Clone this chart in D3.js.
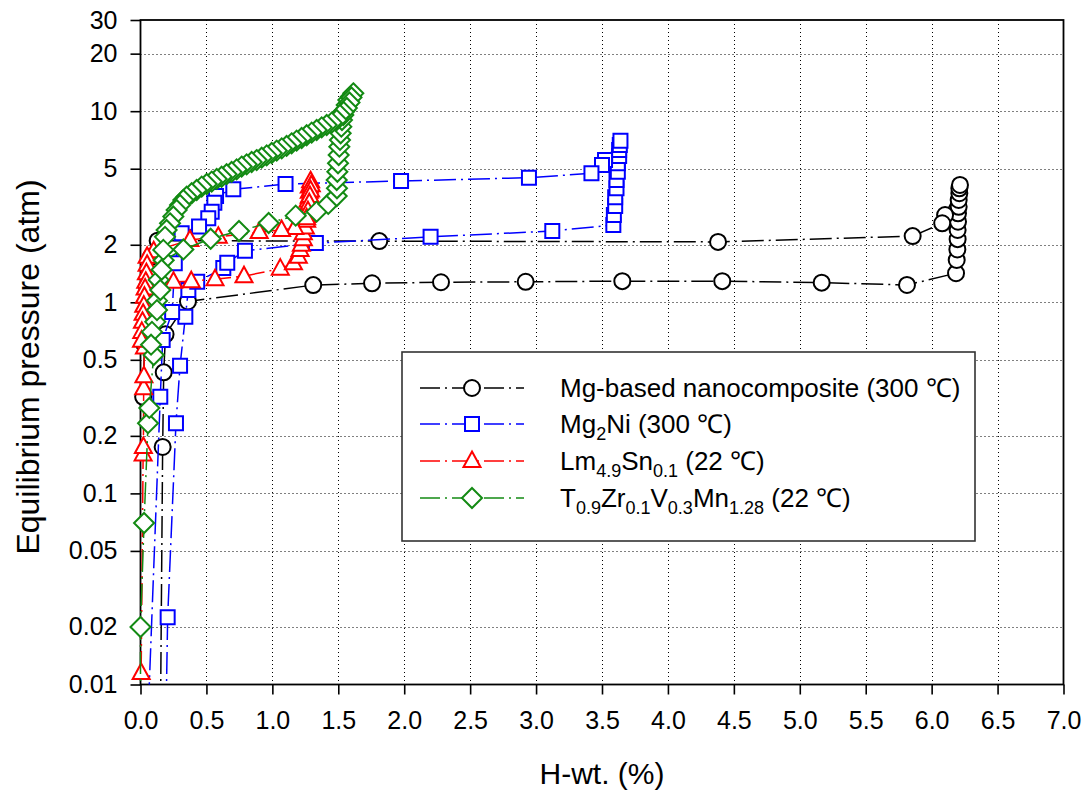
<!DOCTYPE html>
<html>
<head>
<meta charset="utf-8">
<script src="https://cdn.jsdelivr.net/npm/d3@7"></script>
<style>
  html, body { margin: 0; padding: 0; background: #ffffff; }
  svg { display: block; font-family: "Liberation Sans", Arial, Helvetica, sans-serif; }
</style>
</head>
<body>
<svg id="chart" width="1089" height="800"></svg>
<script>
// ---- Data: [H-wt. %, equilibrium pressure (atm)] in measurement order ----
const mgNanoData = [
  [0.150, 0.005], [0.168, 0.175], [0.176, 0.43], [0.190, 0.68], [0.360, 1.01],
  [1.310, 1.23], [1.756, 1.257], [2.279, 1.273], [2.921, 1.28], [3.654, 1.29],
  [4.412, 1.29], [5.166, 1.267], [5.813, 1.232], [6.185, 1.42], [6.190, 1.665],
  [6.195, 1.89], [6.197, 2.14], [6.197, 2.39], [6.200, 2.64], [6.200, 2.92],
  [6.205, 3.16], [6.205, 3.43], [6.210, 3.72], [6.210, 3.95], [6.215, 4.11],
  [6.102, 2.86], [6.080, 2.59], [5.856, 2.22], [4.380, 2.07], [1.811, 2.09],
  [0.130, 2.10], [0.080, 1.73], [0.050, 1.20], [0.030, 0.60], [0.020, 0.32]
];

const mg2NiData = [
  [0.190, 0.005], [0.206, 0.0225], [0.269, 0.233], [0.300, 0.466], [0.340, 0.84],
  [0.363, 1.16], [0.430, 1.28], [0.628, 1.51], [0.658, 1.61], [0.792, 1.86],
  [1.330, 2.04], [2.200, 2.20], [3.123, 2.36], [3.586, 2.54], [3.590, 2.86],
  [3.600, 3.19], [3.600, 3.54], [3.610, 3.95], [3.610, 4.36], [3.620, 4.82],
  [3.620, 5.34], [3.630, 5.83], [3.630, 6.27], [3.635, 6.66], [3.640, 7.00],
  [3.523, 5.55], [3.500, 5.23], [3.420, 4.73], [2.946, 4.49], [1.976, 4.31],
  [1.100, 4.16], [0.704, 3.90], [0.573, 3.60], [0.560, 3.32], [0.540, 2.98],
  [0.514, 2.75], [0.444, 2.49], [0.312, 2.30], [0.260, 1.60], [0.240, 0.89],
  [0.168, 0.635], [0.150, 0.32], [0.050, 0.005]
];

const lmSnData = [
  [0.005, 0.0115], [0.020, 0.16], [0.022, 0.175], [0.024, 0.355], [0.026, 0.41],
  [0.030, 0.58], [0.045, 0.75], [0.065, 1.00], [0.100, 1.18], [0.250, 1.28],
  [0.385, 1.29], [0.565, 1.32], [0.785, 1.37], [1.060, 1.50], [1.160, 1.60],
  [1.197, 1.73], [1.210, 1.88], [1.220, 2.00], [1.235, 2.14], [1.235, 2.30],
  [1.250, 2.46], [1.260, 2.67], [1.260, 2.83], [1.270, 3.00], [1.270, 3.19],
  [1.270, 3.40], [1.280, 3.57], [1.280, 3.79], [1.280, 4.03], [1.290, 4.30],
  [1.295, 4.10], [1.290, 3.85], [1.285, 3.60], [1.280, 3.30], [1.270, 3.00],
  [1.260, 2.75], [1.170, 2.45], [1.070, 2.39], [0.900, 2.33], [0.590, 2.20],
  [0.375, 2.12], [0.100, 1.85], [0.050, 1.73], [0.050, 1.57], [0.045, 1.42],
  [0.040, 1.28], [0.035, 1.18], [0.030, 1.07], [0.025, 0.96], [0.020, 0.87],
  [0.015, 0.79], [0.010, 0.70], [0.008, 0.63]
];

const tiZrData = [
  [0.000, 0.005], [0.000, 0.020], [0.027, 0.070], [0.057, 0.233], [0.067, 0.280],
  [0.100, 0.530], [0.112, 0.790], [0.125, 1.020], [0.138, 1.310], [0.176, 1.660],
  [0.325, 1.890], [0.532, 2.150], [0.747, 2.360], [0.972, 2.600], [1.177, 2.840],
  [1.336, 2.980], [1.424, 3.270], [1.488, 3.600], [1.490, 3.950], [1.488, 4.360],
  [1.493, 4.820], [1.498, 5.340], [1.503, 5.900], [1.508, 6.520], [1.513, 7.070],
  [1.518, 7.660], [1.523, 8.300], [1.528, 8.990], [1.538, 9.550], [1.551, 10.10],
  [1.564, 10.78], [1.576, 11.45], [1.595, 11.90], [1.614, 12.40], [1.600, 11.80],
  [1.585, 11.10], [1.565, 10.40], [1.540, 9.90], [1.513, 9.55], [1.488, 8.99],
  [1.450, 8.71], [1.412, 8.47], [1.374, 8.23], [1.336, 7.97], [1.298, 7.72],
  [1.260, 7.48], [1.222, 7.24], [1.184, 7.01], [1.146, 6.79], [1.108, 6.58],
  [1.071, 6.39], [1.033, 6.22], [0.995, 6.04], [0.957, 5.87], [0.919, 5.71],
  [0.881, 5.55], [0.843, 5.42], [0.805, 5.27], [0.767, 5.13], [0.729, 4.96],
  [0.691, 4.81], [0.653, 4.68], [0.615, 4.54], [0.578, 4.42], [0.540, 4.28],
  [0.502, 4.16], [0.464, 4.03], [0.426, 3.87], [0.388, 3.72], [0.350, 3.57],
  [0.325, 3.43], [0.300, 3.23], [0.274, 3.04], [0.249, 2.81], [0.224, 2.59],
  [0.198, 2.39], [0.186, 2.20], [0.173, 1.88], [0.160, 1.48], [0.150, 1.16],
  [0.125, 0.91], [0.087, 0.70], [0.080, 0.60]
];

// Legend labels: [text, isSubscript]
const legendLabels = [
  [["Mg-based nanocomposite (300 \u2103)", false]],
  [["Mg", false], ["2", true], ["Ni (300 \u2103)", false]],
  [["Lm", false], ["4.9", true], ["Sn", false], ["0.1", true], [" (22 \u2103)", false]],
  [["T", false], ["0.9", true], ["Zr", false], ["0.1", true], ["V", false], ["0.3", true],
   ["Mn", false], ["1.28", true], [" (22 \u2103)", false]]
];

const seriesColors = ["#000000", "#0000ff", "#ff0000", "#138a13"];
const seriesShapes = ["circle", "square", "triangle", "diamond"];

const xTickValues = [0, 0.5, 1, 1.5, 2, 2.5, 3, 3.5, 4, 4.5, 5, 5.5, 6, 6.5, 7];
const yTickValues = [0.01, 0.02, 0.05, 0.1, 0.2, 0.5, 1, 2, 5, 10, 20, 30];
const yTickLabels = ["0.01", "0.02", "0.05", "0.1", "0.2", "0.5", "1", "2", "5", "10", "20", "30"];

const xTitle = "H-wt. (%)";
const yTitle = "Equilibrium pressure (atm)";

// ---- Layout ----
const plot = { left: 140.5, right: 1063.5, top: 20, bottom: 684.5 };
const svg = d3.select("#chart");

const x = d3.scaleLinear().domain([0, 7]).range([plot.left, plot.right]);
const y = d3.scaleLog().domain([0.01, 30]).range([plot.bottom, plot.top]);

const seriesData = [mgNanoData, mg2NiData, lmSnData, tiZrData];

// ---- Grid ----
const grid = svg.append("g").attr("class", "grid")
  .attr("stroke", "#000").attr("stroke-width", 1).attr("stroke-dasharray", "1,3");
grid.selectAll("line.gx")
  .data(xTickValues.filter(v => v > 0 && v < 7))
  .join("line").attr("class", "gx")
  .attr("x1", d => Math.round(x(d)) + 0.5).attr("x2", d => Math.round(x(d)) + 0.5)
  .attr("y1", plot.top).attr("y2", plot.bottom);
grid.selectAll("line.gy")
  .data(yTickValues.filter(v => v > 0.01 && v < 30))
  .join("line").attr("class", "gy")
  .attr("y1", d => Math.round(y(d)) + 0.5).attr("y2", d => Math.round(y(d)) + 0.5)
  .attr("x1", plot.left).attr("x2", plot.right);

// ---- Axes ----
const xAxis = d3.axisBottom(x).tickValues(xTickValues)
  .tickFormat(d3.format(".1f")).tickSizeInner(10).tickSizeOuter(0).tickPadding(17);
const yAxis = d3.axisLeft(y).tickValues(yTickValues)
  .tickFormat((d, i) => yTickLabels[i]).tickSizeInner(10).tickSizeOuter(0).tickPadding(13);

const gx = svg.append("g").attr("transform", `translate(0,${plot.bottom})`).call(xAxis);
const gy = svg.append("g").attr("transform", `translate(${plot.left},0)`).call(yAxis);
[gx, gy].forEach(g => {
  g.select(".domain").remove();
  g.selectAll(".tick line").attr("stroke", "#000").attr("stroke-width", 1.6);
  g.selectAll(".tick text").attr("fill", "#000").attr("font-size", 25)
    .attr("font-family", "'Liberation Sans', Arial, sans-serif");
});

// Frame
svg.append("rect")
  .attr("x", plot.left).attr("y", plot.top)
  .attr("width", plot.right - plot.left).attr("height", plot.bottom - plot.top)
  .attr("fill", "none").attr("stroke", "#000").attr("stroke-width", 1.8);

// Titles
svg.append("text")
  .attr("x", (plot.left + plot.right) / 2).attr("y", 784)
  .attr("text-anchor", "middle").attr("font-size", 30).attr("fill", "#000")
  .text(xTitle);
svg.append("text")
  .attr("transform", "translate(39,367) rotate(-90)")
  .attr("text-anchor", "middle").attr("font-size", 32).attr("fill", "#000")
  .text(yTitle);

// ---- Marker shapes ----
function markerPath(shape) {
  switch (shape) {
    case "circle": return "M8,0A8,8 0 1,1 -8,0A8,8 0 1,1 8,0Z";
    case "square": return "M-7,-7H7V7H-7Z";
    case "triangle": return "M0,-9.5L8.5,6L-8.5,6Z";
    case "diamond": return "M0,-10L10,0L0,10L-10,0Z";
  }
}

// ---- Series ----
svg.append("clipPath").attr("id", "plotClip")
  .append("rect").attr("x", plot.left - 15).attr("y", plot.top)
  .attr("width", plot.right - plot.left + 15).attr("height", plot.bottom - plot.top);

const line = d3.line().x(d => x(d[0])).y(d => y(d[1]));
const dash = "22,5,2,5";

seriesData.forEach((data, i) => {
  const g = svg.append("g");
  g.append("path")
    .attr("clip-path", "url(#plotClip)")
    .attr("d", line(data))
    .attr("fill", "none").attr("stroke", seriesColors[i])
    .attr("stroke-width", 1.5).attr("stroke-dasharray", dash);
  g.selectAll("path.mk")
    .data(data.filter(d => d[1] >= 0.01 && d[1] <= 30))
    .join("path").attr("class", "mk")
    .attr("transform", d => `translate(${x(d[0])},${y(d[1])})`)
    .attr("d", markerPath(seriesShapes[i]))
    .attr("fill", "#fff").attr("stroke", seriesColors[i]).attr("stroke-width", 2);
});

// ---- Legend ----
const legend = { x: 402, y: 352, w: 573, h: 189, rowY: [388, 424, 461, 498] };
const lg = svg.append("g");
lg.append("rect")
  .attr("x", legend.x).attr("y", legend.y).attr("width", legend.w).attr("height", legend.h)
  .attr("fill", "#fff").attr("stroke", "#333").attr("stroke-width", 1.6);

legendLabels.forEach((parts, i) => {
  const cy = legend.rowY[i];
  lg.append("line")
    .attr("x1", 420).attr("x2", 524).attr("y1", cy).attr("y2", cy)
    .attr("stroke", seriesColors[i]).attr("stroke-width", 1.5)
    .attr("stroke-dasharray", "20,5,2,5");
  lg.append("path")
    .attr("transform", `translate(472,${cy})`)
    .attr("d", markerPath(seriesShapes[i]))
    .attr("fill", "#fff").attr("stroke", seriesColors[i]).attr("stroke-width", 2);
  const t = lg.append("text")
    .attr("x", 560).attr("y", cy + 9)
    .attr("font-size", 26).attr("fill", "#000");
  let shifted = false;
  parts.forEach(([s, sub]) => {
    const ts = t.append("tspan").text(s);
    if (sub && !shifted) { ts.attr("dy", 7).attr("font-size", 18); shifted = true; }
    else if (sub) { ts.attr("font-size", 18); }
    else if (shifted) { ts.attr("dy", -7); shifted = false; }
  });
});
</script>
</body>
</html>
